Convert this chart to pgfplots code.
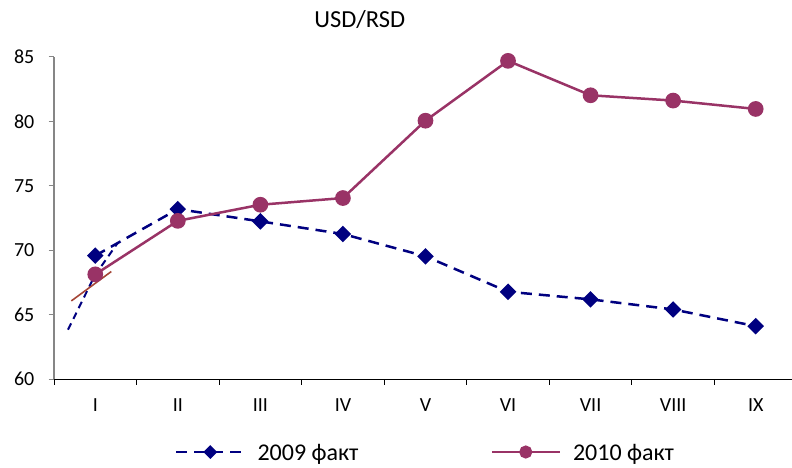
\documentclass[border=0pt]{standalone}
\usepackage{pgfplots}
\pgfplotsset{compat=1.18}
\usepackage{fontspec}
\setmainfont{Carlito}
\definecolor{ser09}{RGB}{0,0,128}
\definecolor{ser10}{RGB}{153,51,102}
\definecolor{trend}{RGB}{165,70,55}
\definecolor{axgray}{RGB}{134,134,134}

\pgfplotstableread{
x y
0 69.59
1 73.20
2 72.25
3 71.27
4 69.54
5 66.79
6 66.20
7 65.42
8 64.12
}\seriesA
\pgfplotstableread{
x y
0 68.14
1 72.29
2 73.54
3 74.06
4 80.06
5 84.70
6 82.03
7 81.62
8 80.97
}\seriesB

\begin{document}
\begin{tikzpicture}[x=1pt,y=1pt]
\path[use as bounding box] (0,0) rectangle (792,468);
\begin{axis}[
  at={(54pt,88.7pt)}, anchor=south west,
  scale only axis, width=738pt, height=322.3pt,
  xmin=-0.5, xmax=8.44, ymin=60, ymax=85,
  axis x line*=bottom, axis y line*=left,
  x axis line style={black, line width=1.2pt},
  y axis line style={axgray, line width=1.4pt},
  xtick={-0.5,0.5,...,7.5},
  xticklabels={I,II,III,IV,V,VI,VII,VIII,IX},
  ytick={60,65,...,85},
  /pgf/number format/assume math mode=true,
  tick align=outside,
  major tick length=5.5pt,
  xtick style={draw=black, line width=1pt},
  ytick style={draw=axgray, line width=1pt},
  xticklabel style={font=\fontsize{20}{24}\selectfont, xshift=41.3pt, inner sep=0pt, anchor=north, yshift=-14pt},
  yticklabel style={font=\fontsize{20}{24}\selectfont, inner sep=0pt, anchor=east, xshift=-14pt},
  legend columns=2,
  legend cell align=left,
  legend style={draw=none, fill=none, inner sep=0pt, outer sep=0pt,
    at={(0.164,-0.2256)}, anchor=west,
    font=\fontsize{24}{28}\selectfont,
    nodes={inner sep=0pt, text depth=0pt},
    /tikz/every odd column/.append style={column sep=12pt},
    /tikz/every even column/.append style={column sep=132pt}},
  legend image code/.code={\draw[mark repeat=2,mark phase=2,#1,every mark/.append style={scale=0.8}] plot coordinates {(0pt,0pt)(34pt,0pt)(68pt,0pt)};},
  clip=false,
]
\addplot[ser09, line width=2.5pt, dash pattern=on 11pt off 7pt, mark=square*, mark size=4.6pt, mark options={solid, rotate=45, fill=ser09}] table[x=x,y=y] {\seriesA};
\addlegendentry{2009 факт}
\addplot[ser10, line width=2.5pt, mark=*, mark size=6.6pt, mark options={solid, fill=ser10}] table[x=x,y=y] {\seriesB};
\addlegendentry{2010 факт}
\addplot[ser09, line width=2pt, dash pattern=on 7pt off 5pt, forget plot] coordinates {(-0.33,63.85) (-0.008,68.03) (0.274,70.6)};
\addplot[trend, line width=1.6pt, forget plot] coordinates {(-0.29,66.08) (0.194,68.36)};
\end{axis}
\node[font=\fontsize{24.5}{28}\selectfont, inner sep=0pt] at (359.7pt,448pt) {USD/RSD};
\end{tikzpicture}
\end{document}
